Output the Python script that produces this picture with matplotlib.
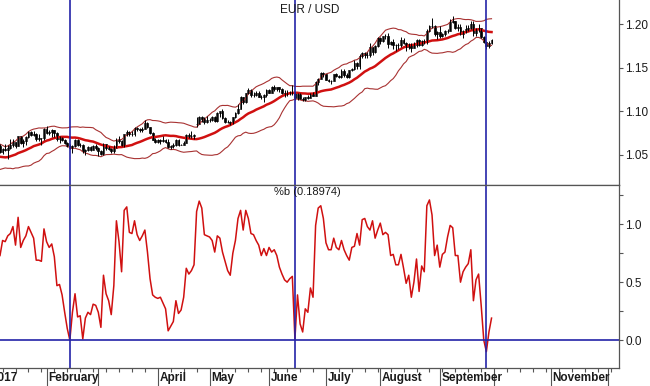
import matplotlib
matplotlib.use("Agg")
import matplotlib.pyplot as plt
import matplotlib.transforms as mtrans
from matplotlib.ticker import FixedLocator, FormatStrFormatter, MultipleLocator
import numpy as np
import pandas as pd

plt.rcParams['font.family'] = ['Liberation Sans', 'DejaVu Sans']

# trading days; every weekday is one bar slot, Jan 6 2017 is slot 0
days = pd.bdate_range("2017-01-02", "2017-12-08")
start = days.get_loc(pd.Timestamp("2017-01-06"))
slot = np.arange(len(days)) - start

# closes before the visible window (Dec 9 2016 .. Jan 5 2017), only feed the bands
pre_close = [1.0562, 1.0634, 1.0624, 1.0532, 1.0410, 1.0451, 1.0402, 1.0390, 1.0427, 1.0437,
             1.0453, 1.0457, 1.0455, 1.0409, 1.0494, 1.0517, 1.0459, 1.0404, 1.0490, 1.0606]

# daily OHLC, Jan 6 .. Sep 29 2017 (one row per week)
op = [1.0606,
      1.0532, 1.0572, 1.0555, 1.0582, 1.0613,
      1.0645, 1.0604, 1.0716, 1.0633, 1.0661,
      1.0702, 1.0761, 1.0730, 1.0744, 1.0680,
      1.0696, 1.0690, 1.0797, 1.0757, 1.0762,
      1.0785, 1.0750, 1.0684, 1.0694, 1.0667,
      1.0639, 1.0598, 1.0575, 1.0602, 1.0675,
      1.0615, 1.0617, 1.0540, 1.0560, 1.0587,
      1.0562, 1.0597, 1.0576, 1.0546, 1.0508,
      1.0622, 1.0581, 1.0567, 1.0541, 1.0581,
      1.0671, 1.0656, 1.0602, 1.0737, 1.0766,
      1.0738, 1.0742, 1.0810, 1.0795, 1.0785,
      1.0798, 1.0866, 1.0815, 1.0749, 1.0677,
      1.0652, 1.0671, 1.0664, 1.0666, 1.0645,
      1.0592, 1.0599, 1.0614, 1.0674, 1.0614,
      1.0616, 1.0642, 1.0730, 1.0717, 1.0715,
      1.0860, 1.0855, 1.0931, 1.0910, 1.0872,
      1.0897, 1.0902, 1.0934, 1.0888, 1.0985,
      1.0998, 1.0924, 1.0876, 1.0874, 1.0861,
      1.0932, 1.0981, 1.1031, 1.1159, 1.1102,
      1.1206, 1.1244, 1.1183, 1.1183, 1.1214,
      1.1164, 1.1162, 1.1183, 1.1243, 1.1214,
      1.1282, 1.1253, 1.1276, 1.1258, 1.1210,
      1.1196, 1.1212, 1.1210, 1.1216, 1.1150,
      1.1197, 1.1145, 1.1134, 1.1166, 1.1151,
      1.1196, 1.1180, 1.1337, 1.1375, 1.1442,
      1.1425, 1.1362, 1.1347, 1.1350, 1.1422,
      1.1401, 1.1398, 1.1467, 1.1414, 1.1397,
      1.1470, 1.1479, 1.1557, 1.1517, 1.1632,
      1.1666, 1.1644, 1.1649, 1.1734, 1.1678,
      1.1750, 1.1840, 1.1803, 1.1858, 1.1867,
      1.1774, 1.1792, 1.1754, 1.1760, 1.1765,
      1.1822, 1.1780, 1.1734, 1.1772, 1.1724,
      1.1761, 1.1816, 1.1760, 1.1803, 1.1798,
      1.1924, 1.1978, 1.1975, 1.1888, 1.1908,
      1.1857, 1.1888, 1.1916, 1.1920, 1.2019,
      1.2036, 1.1949, 1.1966, 1.1886, 1.1920,
      1.1943, 1.1950, 1.1998, 1.1893, 1.1940,
      1.1950, 1.1846, 1.1792, 1.1746, 1.1787]
hi = [1.0622,
      1.0585, 1.0630, 1.0617, 1.0685, 1.0685,
      1.0645, 1.0719, 1.0719, 1.0680, 1.0719,
      1.0775, 1.0775, 1.0773, 1.0753, 1.0738,
      1.0700, 1.0811, 1.0829, 1.0791, 1.0795,
      1.0785, 1.0759, 1.0719, 1.0707, 1.0680,
      1.0653, 1.0621, 1.0617, 1.0679, 1.0679,
      1.0638, 1.0627, 1.0571, 1.0602, 1.0603,
      1.0618, 1.0626, 1.0589, 1.0560, 1.0634,
      1.0627, 1.0598, 1.0577, 1.0615, 1.0700,
      1.0714, 1.0668, 1.0742, 1.0782, 1.0780,
      1.0771, 1.0819, 1.0826, 1.0805, 1.0818,
      1.0906, 1.0875, 1.0824, 1.0768, 1.0691,
      1.0680, 1.0678, 1.0718, 1.0679, 1.0685,
      1.0619, 1.0638, 1.0679, 1.0678, 1.0630,
      1.0660, 1.0737, 1.0750, 1.0779, 1.0738,
      1.0937, 1.0947, 1.0943, 1.0932, 1.0951,
      1.0922, 1.0952, 1.0949, 1.0993, 1.1005,
      1.1022, 1.0931, 1.0904, 1.0886, 1.0935,
      1.0991, 1.1083, 1.1172, 1.1161, 1.1212,
      1.1268, 1.1254, 1.1216, 1.1237, 1.1228,
      1.1185, 1.1203, 1.1250, 1.1253, 1.1285,
      1.1296, 1.1283, 1.1280, 1.1269, 1.1240,
      1.1240, 1.1229, 1.1296, 1.1225, 1.1211,
      1.1211, 1.1160, 1.1167, 1.1182, 1.1213,
      1.1222, 1.1350, 1.1385, 1.1445, 1.1446,
      1.1432, 1.1370, 1.1362, 1.1428, 1.1444,
      1.1419, 1.1490, 1.1489, 1.1443, 1.1474,
      1.1493, 1.1583, 1.1568, 1.1658, 1.1683,
      1.1678, 1.1675, 1.1777, 1.1737, 1.1763,
      1.1847, 1.1846, 1.1865, 1.1891, 1.1899,
      1.1807, 1.1826, 1.1772, 1.1779, 1.1847,
      1.1843, 1.1792, 1.1780, 1.1778, 1.1790,
      1.1823, 1.1824, 1.1822, 1.1823, 1.1940,
      1.1983, 1.2070, 1.1986, 1.1920, 1.1980,
      1.1897, 1.1930, 1.1940, 1.2059, 1.2092,
      1.2037, 1.1998, 1.1995, 1.1928, 1.1990,
      1.1988, 1.2034, 1.2033, 1.1960, 1.2000,
      1.1950, 1.1860, 1.1800, 1.1810, 1.1833]
lo = [1.0524,
      1.0512, 1.0540, 1.0453, 1.0571, 1.0590,
      1.0578, 1.0600, 1.0625, 1.0587, 1.0618,
      1.0690, 1.0712, 1.0722, 1.0661, 1.0659,
      1.0618, 1.0676, 1.0740, 1.0734, 1.0708,
      1.0709, 1.0662, 1.0642, 1.0655, 1.0628,
      1.0587, 1.0568, 1.0520, 1.0592, 1.0600,
      1.0587, 1.0523, 1.0494, 1.0549, 1.0545,
      1.0554, 1.0561, 1.0493, 1.0495, 1.0503,
      1.0562, 1.0553, 1.0524, 1.0525, 1.0577,
      1.0641, 1.0599, 1.0593, 1.0712, 1.0714,
      1.0722, 1.0717, 1.0774, 1.0761, 1.0760,
      1.0795, 1.0805, 1.0740, 1.0673, 1.0638,
      1.0640, 1.0630, 1.0653, 1.0640, 1.0580,
      1.0569, 1.0576, 1.0597, 1.0606, 1.0610,
      1.0610, 1.0634, 1.0690, 1.0696, 1.0682,
      1.0821, 1.0851, 1.0875, 1.0851, 1.0866,
      1.0880, 1.0890, 1.0874, 1.0875, 1.0940,
      1.0915, 1.0868, 1.0863, 1.0838, 1.0860,
      1.0926, 1.0971, 1.1023, 1.1081, 1.1090,
      1.1194, 1.1166, 1.1160, 1.1176, 1.1160,
      1.1144, 1.1109, 1.1168, 1.1205, 1.1208,
      1.1236, 1.1234, 1.1223, 1.1196, 1.1169,
      1.1181, 1.1190, 1.1188, 1.1132, 1.1135,
      1.1136, 1.1120, 1.1118, 1.1146, 1.1150,
      1.1170, 1.1177, 1.1300, 1.1367, 1.1397,
      1.1360, 1.1338, 1.1313, 1.1346, 1.1390,
      1.1382, 1.1380, 1.1392, 1.1380, 1.1386,
      1.1460, 1.1470, 1.1479, 1.1479, 1.1610,
      1.1613, 1.1612, 1.1625, 1.1648, 1.1663,
      1.1740, 1.1775, 1.1796, 1.1828, 1.1728,
      1.1763, 1.1714, 1.1689, 1.1717, 1.1740,
      1.1774, 1.1688, 1.1711, 1.1680, 1.1720,
      1.1741, 1.1743, 1.1752, 1.1770, 1.1773,
      1.1906, 1.1951, 1.1868, 1.1823, 1.1840,
      1.1852, 1.1865, 1.1895, 1.1917, 1.2008,
      1.1944, 1.1924, 1.1870, 1.1838, 1.1896,
      1.1922, 1.1943, 1.1861, 1.1868, 1.1910,
      1.1836, 1.1780, 1.1718, 1.1722, 1.1770]
cl = [1.0532,
      1.0572, 1.0555, 1.0582, 1.0613, 1.0645,
      1.0604, 1.0716, 1.0633, 1.0661, 1.0702,
      1.0761, 1.0730, 1.0744, 1.0680, 1.0696,
      1.0690, 1.0797, 1.0757, 1.0762, 1.0785,
      1.0750, 1.0684, 1.0694, 1.0667, 1.0639,
      1.0598, 1.0575, 1.0602, 1.0675, 1.0615,
      1.0617, 1.0540, 1.0560, 1.0587, 1.0562,
      1.0597, 1.0576, 1.0546, 1.0508, 1.0622,
      1.0581, 1.0567, 1.0541, 1.0581, 1.0671,
      1.0656, 1.0602, 1.0737, 1.0766, 1.0738,
      1.0742, 1.0810, 1.0795, 1.0785, 1.0798,
      1.0866, 1.0815, 1.0749, 1.0677, 1.0652,
      1.0671, 1.0664, 1.0666, 1.0645, 1.0592,
      1.0599, 1.0614, 1.0674, 1.0614, 1.0616,
      1.0642, 1.0730, 1.0717, 1.0715, 1.0725,
      1.0855, 1.0931, 1.0910, 1.0872, 1.0897,
      1.0902, 1.0934, 1.0888, 1.0985, 1.0998,
      1.0924, 1.0876, 1.0874, 1.0861, 1.0932,
      1.0981, 1.1031, 1.1159, 1.1102, 1.1206,
      1.1244, 1.1183, 1.1183, 1.1214, 1.1164,
      1.1162, 1.1183, 1.1243, 1.1214, 1.1282,
      1.1253, 1.1276, 1.1258, 1.1210, 1.1196,
      1.1212, 1.1210, 1.1216, 1.1150, 1.1197,
      1.1145, 1.1134, 1.1166, 1.1151, 1.1196,
      1.1180, 1.1337, 1.1375, 1.1442, 1.1425,
      1.1362, 1.1347, 1.1350, 1.1422, 1.1401,
      1.1398, 1.1467, 1.1414, 1.1397, 1.1470,
      1.1479, 1.1557, 1.1517, 1.1632, 1.1666,
      1.1644, 1.1649, 1.1734, 1.1678, 1.1750,
      1.1840, 1.1803, 1.1858, 1.1867, 1.1774,
      1.1792, 1.1754, 1.1760, 1.1765, 1.1822,
      1.1780, 1.1734, 1.1772, 1.1724, 1.1761,
      1.1816, 1.1760, 1.1803, 1.1798, 1.1924,
      1.1978, 1.1975, 1.1888, 1.1908, 1.1857,
      1.1888, 1.1916, 1.1920, 1.2019, 1.2036,
      1.1949, 1.1966, 1.1886, 1.1920, 1.1943,
      1.1950, 1.1998, 1.1893, 1.1940, 1.1950,
      1.1846, 1.1792, 1.1746, 1.1787, 1.1813]

# %b as drawn in the lower panel, same days
pct_b = [0.73,
         0.86, 0.85, 0.90, 0.92, 0.98,
         0.82, 1.06, 0.80, 0.86, 0.90,
         0.98, 0.93, 0.88, 0.69, 0.69,
         0.68, 0.96, 0.85, 0.80, 0.83,
         0.72, 0.47, 0.48, 0.39, 0.24,
         0.10, 0.00, 0.24, 0.40, 0.20,
         0.21, 0.01, 0.19, 0.24, 0.22,
         0.31, 0.30, 0.24, 0.11, 0.56,
         0.40, 0.34, 0.22, 0.47, 1.03,
         0.85, 0.59, 1.12, 1.15, 0.93,
         0.92, 1.03, 0.91, 0.86, 0.90,
         0.95, 0.76, 0.53, 0.39, 0.37,
         0.36, 0.37, 0.32, 0.27, 0.08,
         0.12, 0.16, 0.34, 0.23, 0.26,
         0.37, 0.62, 0.57, 0.60, 0.65,
         1.11, 1.20, 1.14, 0.91, 0.90,
         0.89, 0.86, 0.76, 0.90, 0.88,
         0.76, 0.68, 0.60, 0.56, 0.75,
         0.86, 1.05, 1.12, 0.95, 1.12,
         1.05, 0.92, 0.91, 0.86, 0.82,
         0.73, 0.79, 0.73, 0.80, 0.76,
         0.78, 0.73, 0.63, 0.57, 0.52,
         0.50, 0.53, 0.55, 0.01, 0.39,
         0.14, 0.07, 0.27, 0.24, 0.45,
         0.37, 0.99, 1.14, 1.16, 1.05,
         0.84, 0.78, 0.78, 0.88, 0.80,
         0.78, 0.86, 0.78, 0.73, 0.69,
         0.80, 0.81, 0.92, 0.82, 1.04,
         1.05, 0.98, 0.95, 1.03, 0.88,
         0.95, 1.01, 0.91, 0.93, 0.91,
         0.73, 0.74, 0.65, 0.65, 0.74,
         0.62, 0.49, 0.56, 0.37, 0.50,
         0.70, 0.42, 0.64, 0.59, 1.16,
         1.21, 1.08, 0.73, 0.82, 0.63,
         0.74, 0.76, 0.89, 0.99, 0.97,
         0.73, 0.73, 0.50, 0.59, 0.63,
         0.66, 0.78, 0.34, 0.52, 0.57,
         0.30, 0.00, -0.10, 0.07, 0.18974]

month_labels = {1: "2017", 2: "February", 4: "April", 5: "May", 6: "June",
                7: "July", 8: "August", 9: "September", 11: "November"}
signal_days = ["2017-02-14", "2017-06-15", "2017-09-27"]
title_price = "EUR / USD"
title_b = "%b (0.18974)"

# Bollinger bands (20, 2)
all_close = pd.Series(pre_close + cl)
x_all = np.arange(-len(pre_close), len(cl))
mid = all_close.rolling(20).mean()
sd = all_close.rolling(20).std(ddof=0)
upper = mid + 2 * sd
lower = mid - 2 * sd

x = np.arange(len(cl))
op_a, hi_a, lo_a, cl_a = map(np.array, (op, hi, lo, cl))

W, H = 650, 386
fig = plt.figure(figsize=(W / 100, H / 100), dpi=100)
ax1 = fig.add_axes([0, 1 - 185 / H, 619 / W, 185 / H])
ax2 = fig.add_axes([0, 1 - 368 / H, 619 / W, 183 / H], sharex=ax1)

grey = "#555555"
blue = "#2424a8"
band_c = "#a83232"
red = "#d01010"

# price panel
ax1.plot(x_all, upper, color=band_c, lw=0.8)
ax1.plot(x_all, lower, color=band_c, lw=0.8)
ax1.plot(x_all, mid, color=red, lw=1.8)
ax1.vlines(x, lo_a, hi_a, color="black", lw=0.7)
up = cl_a >= op_a
body = np.maximum(np.abs(cl_a - op_a), 0.0003)
ax1.bar(x[up], body[up], bottom=op_a[up], width=0.7, color="white",
        edgecolor="black", linewidth=0.5)
ax1.bar(x[~up], body[~up], bottom=cl_a[~up], width=0.7, color="black",
        edgecolor="black", linewidth=0.5)
ax1.set_ylim(1.0156, 1.2275)
ax1.yaxis.set_major_locator(FixedLocator([1.05, 1.10, 1.15, 1.20]))
ax1.yaxis.set_major_formatter(FormatStrFormatter("%.2f"))

# %b panel
ax2.plot(x, pct_b, color=red, lw=1.1)
ax2.axhline(0, color=blue, lw=1.2)
ax2.set_ylim(-0.241, 1.339)
ax2.yaxis.set_major_locator(FixedLocator([0.0, 0.5, 1.0]))
ax2.yaxis.set_minor_locator(FixedLocator([-0.25, 0.25, 0.75, 1.25]))
ax2.yaxis.set_major_formatter(FormatStrFormatter("%.1f"))

for d in signal_days:
    s = slot[days.get_loc(pd.Timestamp(d))]
    ax1.axvline(s, color=blue, lw=1.2)
    ax2.axvline(s, color=blue, lw=1.2)

ax1.set_xlim(0, 619 / 2.587)

for ax in (ax1, ax2):
    ax.spines["left"].set_visible(False)
    for sp in ax.spines.values():
        sp.set_color(grey)
        sp.set_linewidth(0.9)
    ax.yaxis.tick_right()
    ax.tick_params(axis="y", which="both", direction="out", length=3, width=0.8,
                   color=grey, pad=1.5, labelsize=8.5, labelcolor="#1a1a1a")
ax1.spines["top"].set_visible(False)
ax1.tick_params(axis="x", which="both", bottom=False, labelbottom=False)

# month ticks (long) and weekly ticks (short)
dser = pd.Series(days)
first_of_month = dser.groupby(dser.dt.month).head(1)
month_slots = slot[first_of_month.index]
mondays = slot[np.array(days.weekday == 0)]
ax2.xaxis.set_major_locator(FixedLocator(month_slots))
ax2.xaxis.set_minor_locator(FixedLocator(mondays))
ax2.tick_params(axis="x", which="major", direction="out", length=13, width=0.8,
                color=grey, labelbottom=False)
ax2.tick_params(axis="x", which="minor", direction="out", length=3, width=0.8,
                color=grey)

trans = mtrans.blended_transform_factory(ax2.transData, ax2.transAxes)
for idx, dt in first_of_month.items():
    if dt.month in month_labels:
        ax2.text(slot[idx] + 0.6, -0.02, month_labels[dt.month], transform=trans,
                 ha="left", va="top", fontsize=8.5, fontweight="bold",
                 color="#1a1a1a", clip_on=False)

fig.text(280 / W, 1 - 10 / H, title_price, ha="left", va="center", fontsize=8.5,
         color="#1a1a1a")
fig.text(274 / W, 1 - 192 / H, title_b, ha="left", va="center", fontsize=8,
         color="#1a1a1a")

fig.savefig("out.png", dpi=100)
